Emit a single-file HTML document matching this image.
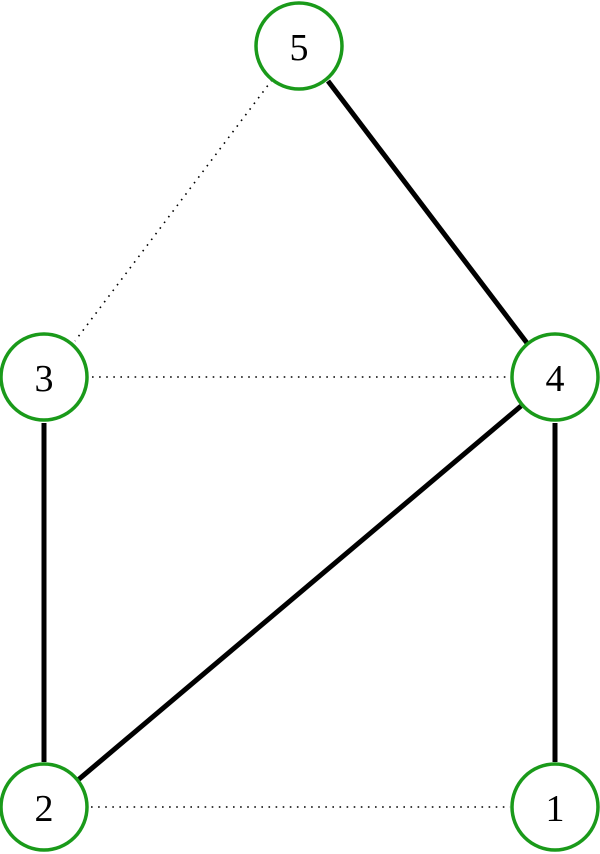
<!DOCTYPE html>
<html><head><meta charset="utf-8"><style>
html,body{margin:0;padding:0;background:#fff;}
svg{display:block;}
text{font-family:"Liberation Serif",serif;font-size:38px;fill:#000;text-anchor:middle;}
</style></head><body>
<svg width="600" height="854" viewBox="0 0 600 854" xmlns="http://www.w3.org/2000/svg">
<g stroke="#000" stroke-width="5" fill="none">
<line x1="328" y1="81" x2="527" y2="343"/>
<line x1="44" y1="423" x2="44" y2="762"/>
<line x1="555" y1="423" x2="555" y2="762"/>
<line x1="521" y1="406" x2="78" y2="780"/>
</g>
<g stroke="#000" stroke-width="1.6" stroke-dasharray="1.6,5.5" fill="none">
<line x1="272" y1="80" x2="75" y2="341"/>
<line x1="92" y1="377" x2="510" y2="377"/>
<line x1="91" y1="807" x2="510" y2="807"/>
</g>
<g stroke="#1a9a1a" stroke-width="3.5" fill="#fff">
<circle cx="299" cy="46" r="43"/>
<circle cx="44" cy="377" r="43"/>
<circle cx="555" cy="377" r="43"/>
<circle cx="44" cy="807" r="43"/>
<circle cx="555" cy="807" r="43"/>
</g>
<text x="299" y="60">5</text>
<text x="44" y="391">3</text>
<text x="555" y="391">4</text>
<text x="44" y="821">2</text>
<text x="555" y="821">1</text>
</svg>
</body></html>
